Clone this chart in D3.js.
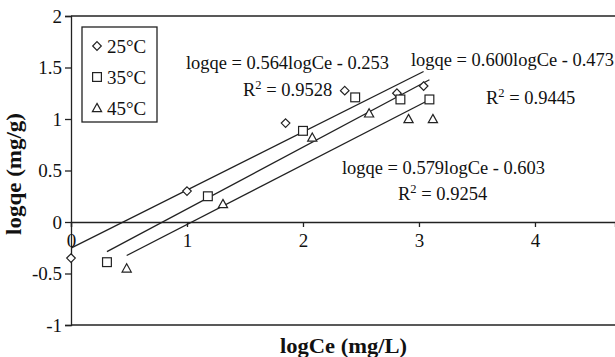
<!DOCTYPE html>
<html><head><meta charset="utf-8">
<script src="https://cdn.jsdelivr.net/npm/d3@7/dist/d3.min.js"></script>
<style>body{margin:0;background:#fff}svg{display:block}text{font-family:"Liberation Serif","Times New Roman",serif;fill:#111}</style>
</head><body>
<script>
const seriesNames = ["25°C", "35°C", "45°C"];
const symbols = ["diamond", "square", "triangle"];
const x25 = [0, 1.0, 1.85, 2.36, 2.81, 3.04];
const y25 = [-0.35, 0.30, 0.96, 1.275, 1.25, 1.32];
const x35 = [0.31, 1.18, 2.0, 2.45, 2.84, 3.09];
const y35 = [-0.39, 0.25, 0.885, 1.21, 1.19, 1.19];
const x45 = [0.48, 1.31, 2.08, 2.57, 2.91, 3.12];
const y45 = [-0.45, 0.175, 0.82, 1.055, 1.0, 1.0];
const slopes = [0.564, 0.600, 0.579];
const intercepts = [-0.253, -0.473, -0.603];
const eqLabels = ["logqe = 0.564logCe - 0.253", "logqe = 0.600logCe - 0.473", "logqe = 0.579logCe - 0.603"];
const r2Labels = ["0.9528", "0.9445", "0.9254"];
const xTicks = [0, 1, 2, 3, 4];
const yTicks = [-1, -0.5, 0, 0.5, 1, 1.5, 2];
const xTitle = "logCe (mg/L)";
const yTitle = "logqe (mg/g)";

const W = 615, H = 357;
const svg = d3.select("body").append("svg").attr("width", W).attr("height", H);
const x = d3.scaleLinear().domain([0, 4.69]).range([71, 615]);
const y = d3.scaleLinear().domain([-1, 2]).range([325, 16]);
const ink = "#222";
const fs = 19;

// frame top & bottom
svg.append("line").attr("x1", x(0)).attr("x2", 615).attr("y1", y(2)).attr("y2", y(2)).attr("stroke", ink).attr("stroke-width", 1.3);
svg.append("line").attr("x1", x(0)).attr("x2", 615).attr("y1", y(-1)).attr("y2", y(-1)).attr("stroke", ink).attr("stroke-width", 1.3);

// y axis
const yAx = svg.append("g").attr("transform", `translate(${x(0)},0)`)
  .call(d3.axisLeft(y).tickValues(yTicks).tickSize(6).tickFormat(d => String(d)));
yAx.select(".domain").attr("stroke", ink).attr("stroke-width", 1.3);
yAx.selectAll(".tick line").attr("stroke", ink).attr("stroke-width", 1.3);
yAx.selectAll("text").attr("x", -9).attr("dy", "0.33em")
  .style("font-family", '"Liberation Serif",serif').style("font-size", fs + "px").attr("fill", "#111");

// x axis at y=0
const xAx = svg.append("g").attr("transform", `translate(0,${y(0)})`)
  .call(d3.axisBottom(x).tickValues(xTicks).tickSize(5).tickFormat(d => String(d)));
xAx.select(".domain").attr("stroke", ink).attr("stroke-width", 1.3);
xAx.selectAll(".tick line").attr("stroke", ink).attr("stroke-width", 1.3);
xAx.selectAll("text").attr("y", 25).attr("dy", 0)
  .style("font-family", '"Liberation Serif",serif').style("font-size", fs + "px").attr("fill", "#111");

const xs = [x25, x35, x45], ys = [y25, y35, y45];

// regression lines
xs.forEach((xv, i) => {
  const x0 = d3.min(xv), x1 = d3.max(xv);
  svg.append("line")
    .attr("x1", x(x0)).attr("y1", y(slopes[i] * x0 + intercepts[i]))
    .attr("x2", x(x1)).attr("y2", y(slopes[i] * x1 + intercepts[i]))
    .attr("stroke", ink).attr("stroke-width", 1.3);
});

function marker(g, type, cx, cy) {
  if (type === "diamond") {
    const s = 4.3;
    g.append("path").attr("d", `M${cx},${cy - s}L${cx + s},${cy}L${cx},${cy + s}L${cx - s},${cy}Z`);
  } else if (type === "square") {
    const s = 4.4;
    g.append("rect").attr("x", cx - s).attr("y", cy - s).attr("width", 2 * s).attr("height", 2 * s);
  } else {
    const s = 4.6;
    g.append("path").attr("d", `M${cx},${cy - s}L${cx + s},${cy + s * 0.8}L${cx - s},${cy + s * 0.8}Z`);
  }
}

xs.forEach((xv, i) => {
  const g = svg.append("g").attr("fill", "#fff").attr("stroke", ink).attr("stroke-width", 1.2);
  xv.forEach((d, j) => marker(g, symbols[i], x(d), y(ys[i][j])));
});

// equations
const eqPos = [[186, 69, 243, 96], [411, 66, 486, 104], [342, 174, 398, 200]];
eqLabels.forEach((t, i) => {
  const [ex, ey, rx, ry] = eqPos[i];
  svg.append("text").attr("x", ex).attr("y", ey).style("font-size", "18.5px")
    .attr("textLength", 203).attr("lengthAdjust", "spacingAndGlyphs").text(t);
  const r = svg.append("text").attr("x", rx).attr("y", ry).style("font-size", "18.5px");
  r.append("tspan").text("R");
  r.append("tspan").attr("dy", -7).style("font-size", "12.5px").text("2");
  r.append("tspan").attr("dy", 7).text(" = " + r2Labels[i]);
});

// legend
svg.append("rect").attr("x", 82).attr("y", 27).attr("width", 75).attr("height", 95)
  .attr("fill", "#fff").attr("stroke", ink).attr("stroke-width", 1.3);
seriesNames.forEach((n, i) => {
  const cy = 46 + i * 31;
  const g = svg.append("g").attr("fill", "#fff").attr("stroke", ink).attr("stroke-width", 1.2);
  marker(g, symbols[i], 97, cy);
  svg.append("text").attr("x", 107).attr("y", cy + 7).style("font-size", fs + "px").text(n);
});

// axis titles
svg.append("text").attr("x", 280).attr("y", 353)
  .style("font-size", "20px").style("font-weight", "bold")
  .attr("textLength", 127).attr("lengthAdjust", "spacingAndGlyphs").text(xTitle);
svg.append("text").attr("transform", "translate(21,235) rotate(-90)")
  .style("font-size", "20px").style("font-weight", "bold")
  .attr("textLength", 122).attr("lengthAdjust", "spacingAndGlyphs").text(yTitle);
</script>
</body></html>
